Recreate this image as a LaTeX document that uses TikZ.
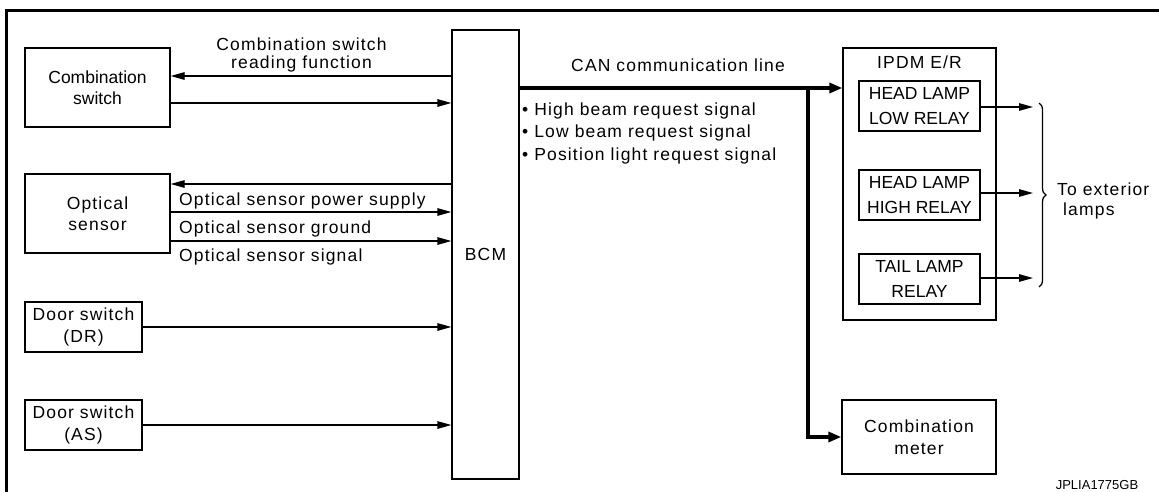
\documentclass[tikz,border=0pt]{standalone}
\usepackage{fontspec}
\setmainfont{Liberation Sans}
\newfontfamily\spfont[LetterSpace=6.6]{Liberation Sans}
\usetikzlibrary{arrows.meta,decorations.pathreplacing}
\tikzset{
  box/.style={draw,line width=1.3pt,inner sep=0pt,align=center,
    font=\spfont\fontsize{17.5}{21.5}\selectfont},
  plainbox/.style={box,font=\fontsize{17.5}{21.5}\selectfont},
  relaybox/.style={box,font=\fontsize{17.5}{24.5}\selectfont,
    minimum width=121pt,minimum height=50pt},
  lbl/.style={font=\spfont\fontsize{17.5}{21.5}\selectfont,inner sep=0pt},
  sig/.style={line width=1.3pt,-{Triangle[length=14pt,width=7.5pt]}},
  can/.style={line width=4pt,line join=miter,-{Triangle[length=13pt,width=10pt]}},
  frameline/.style={line width=3pt,line join=miter}
}
\begin{document}
\begin{tikzpicture}[x=1pt,y=-1pt]
\useasboundingbox (0,0) rectangle (1159,491);
% frame
\draw[frameline] (6.5,495) -- (6.5,10.8) -- (1165,10.8);

% left boxes
\node[plainbox,minimum width=145pt,minimum height=79pt] (cs) at (97.5,87.5) {Combination\\switch};
\node[box,minimum width=145pt,minimum height=79pt] (os) at (97.5,213.5) {Optical\\sensor};
\node[box,minimum width=117pt,minimum height=50pt] (dr) at (83.5,327) {Door switch\\(DR)};
\node[box,minimum width=117pt,minimum height=50pt] (as) at (83.5,425) {Door switch\\(AS)};

% BCM
\node[box,minimum width=67pt,minimum height=449pt] (bcm) at (485.5,254.5) {BCM};

% IPDM
\node[box,minimum width=153pt,minimum height=272pt] (ipdm) at (919.5,184) {};
\node[lbl,anchor=base] (ipdmlbl) at (919.5,68.3) {IPDM E/R};
\node[relaybox] (low) at (919.5,106) {HEAD LAMP\\LOW RELAY};
\node[relaybox] (high) at (919.5,195) {HEAD LAMP\\HIGH RELAY};
\node[relaybox] (tail) at (919.5,279) {TAIL LAMP\\RELAY};

% combination meter
\node[box,minimum width=154pt,minimum height=74pt] (meter) at (919,437) {Combination\\meter};

% combination switch connectors
\draw[sig] (bcm.west |- 0,76) -- (cs.east |- 0,76);
\draw[sig] (cs.east |- 0,103) -- (bcm.west |- 0,103);
\node[lbl,anchor=base] (csl1) at (301.5,50) {Combination switch};
\node[lbl,anchor=base] (csl2) at (301.5,68.5) {reading function};

% optical sensor connectors
\draw[sig] (bcm.west |- 0,184) -- (os.east |- 0,184);
\draw[sig] (os.east |- 0,212) -- (bcm.west |- 0,212);
\draw[sig] (os.east |- 0,241) -- (bcm.west |- 0,241);
\node[lbl,anchor=base west] (osl1) at (179,205.5) {Optical sensor power supply};
\node[lbl,anchor=base west] (osl2) at (179,233) {Optical sensor ground};
\node[lbl,anchor=base west] (osl3) at (179,261.5) {Optical sensor signal};

% door switches
\draw[sig] (dr.east) -- (bcm.west |- dr.east);
\draw[sig] (as.east) -- (bcm.west |- as.east);

% CAN line
\coordinate (cj) at (808,88);
\draw[can] (bcm.east |- cj) -- (ipdm.west |- cj);
\draw[can] (cj) -- (cj |- meter.west) -- (meter.west);
\node[lbl,anchor=base] (canl) at (678,71.7) {CAN communication line};
\node[lbl,anchor=base west] (b1) at (522,115) {• High beam request signal};
\node[lbl,anchor=base west] (b2) at (522,137.5) {• Low beam request signal};
\node[lbl,anchor=base west] (b3) at (522,160) {• Position light request signal};

% relay outputs
\coordinate (o1) at (1033,107);
\coordinate (o2) at (1033,193);
\coordinate (o3) at (1033,278);
\draw[sig] (low.east |- o1) -- (o1);
\draw[sig] (high.east |- o2) -- (o2);
\draw[sig] (tail.east |- o3) -- (o3);
\coordinate (bt) at (1039,103);
\coordinate (bb) at (1039,287);
\draw[line width=1.3pt,decorate,decoration={brace,amplitude=7pt}] (bt) -- (bb);
\node[lbl,anchor=base west] (ext1) at (1057,195) {To exterior};
\node[lbl,anchor=base west] (ext2) at (1063,215) {lamps};

% code
\node[inner sep=0pt,anchor=base,font=\fontsize{13}{13}\selectfont] (code) at (1097,489) {JPLIA1775GB};
\end{tikzpicture}
\end{document}
